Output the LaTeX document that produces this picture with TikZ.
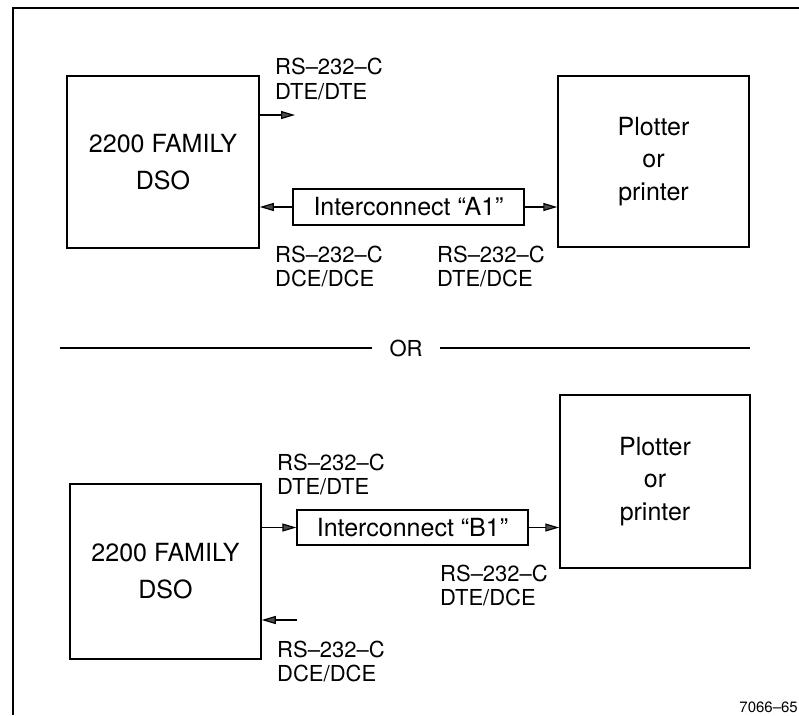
\documentclass[tikz,border=0pt]{standalone}
\usepackage{fontspec}
\setmainfont{TeX Gyre Heros}
\usetikzlibrary{arrows.meta}
\begin{document}
\begin{tikzpicture}[x=1pt,y=-1pt,
  blk/.style={draw, line width=1.5pt, inner sep=0pt, align=center},
  ibox/.style={draw, line width=1.3pt, inner sep=0pt, minimum width=231pt, minimum height=36pt, font=\fontsize{25}{30}\selectfont},
  lbl/.style={anchor=west, inner sep=0pt, align=left, font=\fontsize{22}{24.5}\selectfont},
  arr/.style={line width=1.2pt, -{Triangle[length=14pt,width=8pt,fill=black!70]}},
  frame/.style={line width=1.6pt}]
\useasboundingbox (0,0) rectangle (799,715);
% open frame
\coordinate (fr1) at (799,8);
\coordinate (fr2) at (13,8);
\coordinate (fr3) at (13,715);
\draw[frame] (fr1) -- (fr2) -- (fr3);

% ---------- top alternative ----------
\node[blk, minimum width=192pt, minimum height=172pt, font=\fontsize{25}{37}\selectfont] (dso1) at (163,162) {2200 FAMILY\\DSO};
\node[blk, minimum width=191pt, minimum height=171pt, font=\fontsize{25}{32.5}\selectfont] (plt1) at (653.5,161.5) {Plotter\\or\\printer};
\node[ibox] (ia) at (408.5,207) {Interconnect “A1”};
\coordinate (t1) at (295,115);
\draw[arr] (dso1.east |- t1) -- (t1);
\draw[arr] (ia.west) -- (ia.west -| dso1.east);
\draw[arr] (ia.east) -- (ia.east -| plt1.west);
\node[lbl] (l1) at (275,79) {RS–232–C\\DTE/DTE};
\node[lbl] (l2) at (275,266.5) {RS–232–C\\DCE/DCE};
\node[lbl] (l3) at (437,266.5) {RS–232–C\\DTE/DCE};

% ---------- OR divider ----------
\node[inner sep=0pt, font=\fontsize{22}{24}\selectfont] (or) at (406,348) {OR};
\coordinate (orL) at (60,348);
\coordinate (orR) at (750,348);
\draw[line width=1.3pt] (orL) -- ([xshift=-17pt]or.west |- orL);
\draw[line width=1.3pt] ([xshift=17pt]or.east |- orR) -- (orR);

% ---------- bottom alternative ----------
\node[blk, minimum width=191pt, minimum height=175pt, font=\fontsize{25}{37}\selectfont] (dso2) at (165.5,571.5) {2200 FAMILY\\DSO};
\node[blk, minimum width=190pt, minimum height=173pt, font=\fontsize{25}{32.5}\selectfont] (plt2) at (655,481.5) {Plotter\\or\\printer};
\node[ibox, minimum height=35pt] (ib) at (412.5,527.5) {Interconnect “B1”};
\draw[arr] (ib.west -| dso2.east) -- (ib.west);
\draw[arr] (ib.east) -- (ib.east -| plt2.west);
\coordinate (t2) at (297,620);
\draw[arr] (t2) -- (t2 -| dso2.east);
\node[lbl] (l4) at (277,474.5) {RS–232–C\\DTE/DTE};
\node[lbl] (l5) at (277,661.5) {RS–232–C\\DCE/DCE};
\node[lbl] (l6) at (440,585.5) {RS–232–C\\DTE/DCE};

\node[anchor=east, inner sep=0pt, font=\fontsize{15}{18}\selectfont] (fig) at (798,707) {7066–65};
\end{tikzpicture}
\end{document}
